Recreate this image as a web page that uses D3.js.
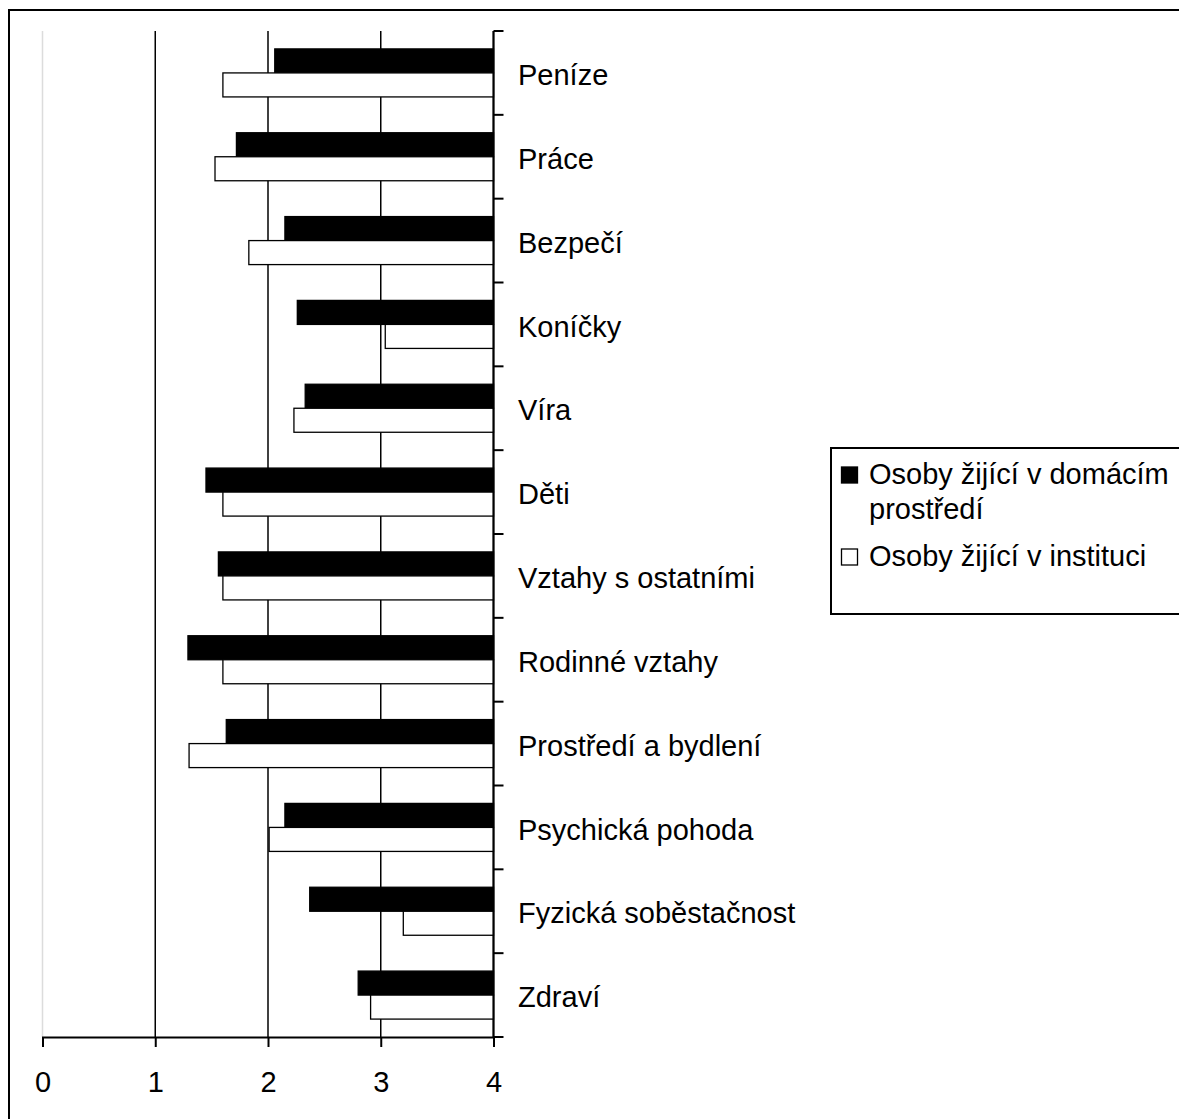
<!DOCTYPE html>
<html>
<head>
<meta charset="utf-8">
<script src="https://cdn.jsdelivr.net/npm/d3@7"></script>
<style>
  html, body { margin: 0; padding: 0; background: #fff; }
  svg { display: block; }
  text { font-family: "Liberation Sans", Arial, sans-serif; fill: #000; }
</style>
</head>
<body>
<svg id="chart" width="1179" height="1119"></svg>
<script>
// Categories, top to bottom
const categories = [
  "Peníze", "Práce", "Bezpečí", "Koníčky", "Víra", "Děti",
  "Vztahy s ostatními", "Rodinné vztahy", "Prostředí a bydlení",
  "Psychická pohoda", "Fyzická soběstačnost", "Zdraví"
];
// Series names
const seriesNames = ["Osoby žijící v domácím prostředí", "Osoby žijící v instituci"];
// Mean scores per category
const homeValues = [2.06, 1.72, 2.15, 2.26, 2.33, 1.45, 1.56, 1.29, 1.63, 2.15, 2.37, 2.80];
const institutionValues = [1.60, 1.53, 1.83, 3.04, 2.23, 1.60, 1.60, 1.60, 1.30, 2.01, 3.20, 2.91];
// Value axis ticks
const xTicks = [0, 1, 2, 3, 4];

const svg = d3.select("#chart");

// Outer frame
svg.append("rect")
  .attr("x", 9).attr("y", 10)
  .attr("width", 1200).attr("height", 1200)
  .attr("fill", "none").attr("stroke", "#000").attr("stroke-width", 2);

const x = d3.scaleLinear().domain([0, 4]).range([42.5, 493.5]);
const y = d3.scaleBand().domain(categories).range([31, 1037]).paddingInner(0).paddingOuter(0);
const ySub = d3.scaleBand().domain(["home", "inst"]).range([0, y.bandwidth()]).paddingInner(0).paddingOuter(0.746);

// Vertical gridlines
svg.append("g").selectAll("line")
  .data(xTicks)
  .join("line")
  .attr("x1", d => x(d)).attr("x2", d => x(d))
  .attr("y1", 31).attr("y2", 1037)
  .attr("stroke", d => d === 0 ? "#dcdcdc" : "#000")
  .attr("stroke-width", 1.5);

// Bars: drawn from the value to the right end of the axis (4)
const rows = categories.map((c, i) => ({ c, home: homeValues[i], inst: institutionValues[i] }));
const g = svg.append("g");
rows.forEach(r => {
  [["home", r.home, "#000"], ["inst", r.inst, "#fff"]].forEach(([k, v, fill]) => {
    g.append("rect")
      .attr("x", x(v))
      .attr("y", y(r.c) + ySub(k))
      .attr("width", x(4) - x(v))
      .attr("height", ySub.bandwidth())
      .attr("fill", fill)
      .attr("stroke", "#000")
      .attr("stroke-width", 1.3);
  });
});

// Bottom value axis
const xAxis = d3.axisBottom(x).tickValues(xTicks).tickSize(10).tickPadding(14).tickFormat(d3.format("d"));
const gx = svg.append("g").attr("transform", "translate(0,1037)").call(xAxis);
gx.attr("font-family", null).attr("font-size", null);
gx.select(".domain").attr("stroke-width", 2);
gx.selectAll(".tick line").attr("stroke-width", 2);
gx.selectAll(".tick text")
  .attr("y", 55)
  .attr("dy", null)
  .attr("font-size", 29);

// Right category axis with ticks at band boundaries
const boundaries = categories.map(c => y(c)).concat([y.range()[1]]);
const gy = svg.append("g");
gy.append("line")
  .attr("x1", x(4)).attr("x2", x(4))
  .attr("y1", 31).attr("y2", 1037)
  .attr("stroke", "#000").attr("stroke-width", 2);
gy.selectAll("line.tick")
  .data(boundaries)
  .join("line")
  .attr("class", "tick")
  .attr("x1", x(4)).attr("x2", x(4) + 10)
  .attr("y1", d => d).attr("y2", d => d)
  .attr("stroke", "#000").attr("stroke-width", 2);
gy.selectAll("text")
  .data(categories)
  .join("text")
  .attr("x", 518)
  .attr("y", d => y(d) + y.bandwidth() / 2)
  .attr("dy", "0.42em")
  .attr("font-size", 29)
  .text(d => d);

// Legend
const legend = svg.append("g");
legend.append("rect")
  .attr("x", 831).attr("y", 448)
  .attr("width", 400).attr("height", 166)
  .attr("fill", "#fff").attr("stroke", "#000").attr("stroke-width", 2);
const legendItems = [
  { fill: "#000", lines: ["Osoby žijící v domácím", "prostředí"], base: 484 },
  { fill: "#fff", lines: ["Osoby žijící v instituci"], base: 566 }
];
legendItems.forEach(item => {
  legend.append("rect")
    .attr("x", 841.5).attr("y", item.base - 17)
    .attr("width", 16).attr("height", 16)
    .attr("fill", item.fill).attr("stroke", "#000").attr("stroke-width", 1.3);
  item.lines.forEach((line, i) => {
    legend.append("text")
      .attr("x", 869)
      .attr("y", item.base + i * 35)
      .attr("font-size", 29)
      .text(line);
  });
});
</script>
</body>
</html>
